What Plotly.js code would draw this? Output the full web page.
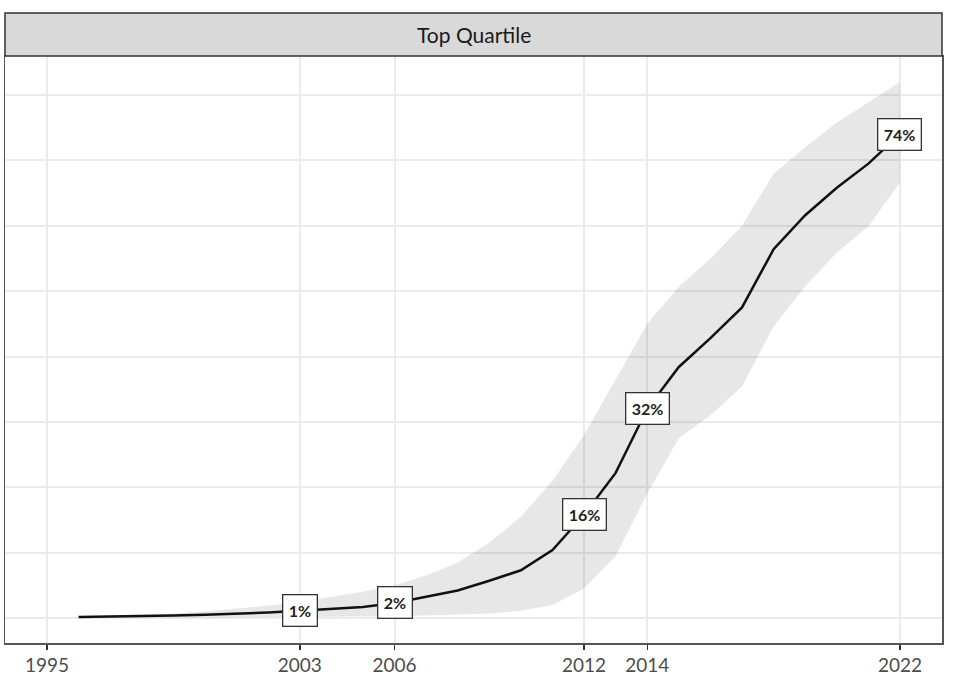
<!DOCTYPE html>
<html>
<head>
<meta charset="utf-8">
<script src="https://cdn.plot.ly/plotly-3.0.1.min.js"></script>
<style>
  html, body { margin: 0; padding: 0; background: #ffffff; }
  #chart { width: 957px; height: 686px; }
</style>
</head>
<body>
<div id="chart"></div>
<script>
// ---- data ----
const years = [1996, 1997, 1998, 1999, 2000, 2001, 2002, 2003, 2004, 2005, 2006, 2007, 2008, 2009,
               2010, 2011, 2012, 2013, 2014, 2015, 2016, 2017, 2018, 2019, 2020, 2021, 2022];
const share = [0.15, 0.2, 0.3, 0.4, 0.5, 0.65, 0.85, 1.1, 1.4, 1.7, 2.3, 3.3, 4.2, 5.7,
               7.3, 10.4, 15.8, 22.2, 32, 38.4, 42.8, 47.5, 56.4, 61.6, 65.8, 69.5, 74];
const lower = [0.05, 0.05, 0.05, 0.1, 0.1, 0.1, 0.1, 0.15, 0.2, 0.2, 0.3, 0.4, 0.5, 0.7,
               1.1, 2.0, 4.5, 9.5, 19, 27.5, 31, 35.4, 44.6, 50.7, 55.9, 59.9, 66.6];
const upper = [0.2, 0.35, 0.5, 0.7, 1.0, 1.4, 1.9, 2.5, 3.2, 4.0, 5.0, 6.5, 8.5, 11.5,
               15.5, 21, 28, 36.4, 45, 50.7, 55, 60, 68, 72, 75.8, 78.9, 82];
const labelYears = [2003, 2006, 2012, 2014, 2022];
const labelTexts = ["1%", "2%", "16%", "32%", "74%"];
const tickYears = [1995, 2003, 2006, 2012, 2014, 2022];
const tickTexts = ["1995", "2003", "2006", "2012", "2014", "2022"];
const panelTitle = "Top Quartile";

// ---- traces ----
const ribbonLow = {
  x: years, y: lower, type: "scatter", mode: "lines",
  line: { width: 0, color: "rgba(0,0,0,0)" },
  hoverinfo: "skip", showlegend: false
};
const ribbonHigh = {
  x: years, y: upper, type: "scatter", mode: "lines",
  fill: "tonexty", fillcolor: "rgba(0,0,0,0.095)",
  line: { width: 0, color: "rgba(0,0,0,0)" },
  hoverinfo: "skip", showlegend: false
};
const mainLine = {
  x: years, y: share, type: "scatter", mode: "lines",
  line: { color: "#111111", width: 2.5 },
  showlegend: false
};

const annotations = labelYears.map((yr, i) => ({
  x: yr, y: share[years.indexOf(yr)], xref: "x", yref: "y",
  text: labelTexts[i], showarrow: false,
  bgcolor: "#ffffff", bordercolor: "#333333", borderwidth: 1.3, borderpad: 5.5,
  font: { family: "Lato, 'Open Sans', sans-serif", size: 16, color: "#222222", weight: "bold" }
}));
annotations.push({
  x: 0.5, y: 1 + 21.5 / 587, xref: "paper", yref: "paper",
  text: panelTitle, showarrow: false, xanchor: "center", yanchor: "middle",
  font: { family: "Lato, 'Open Sans', sans-serif", size: 21, color: "#1a1a1a" }
});

const layout = {
  width: 957, height: 686,
  margin: { l: 5, r: 15, t: 56, b: 43, pad: 0 },
  paper_bgcolor: "#ffffff", plot_bgcolor: "#ffffff",
  showlegend: false,
  xaxis: {
    range: [1993.67, 2023.33],
    tickmode: "array", tickvals: tickYears, ticktext: tickTexts,
    showgrid: true, gridcolor: "#ebebeb", gridwidth: 2,
    zeroline: false,
    showline: true, linecolor: "#555555", linewidth: 1.5, mirror: true,
    ticks: "outside", ticklen: 5, tickwidth: 1.5, tickcolor: "#333333",
    tickfont: { family: "Lato, 'Open Sans', sans-serif", size: 19, color: "#4d4d4d" },
    fixedrange: true
  },
  yaxis: {
    range: [-3.82, 85.96],
    tick0: 0, dtick: 10,
    showticklabels: false, ticks: "",
    showgrid: true, gridcolor: "#ebebeb", gridwidth: 2,
    zeroline: false,
    showline: true, linecolor: "#555555", linewidth: 1.5, mirror: true,
    fixedrange: true
  },
  shapes: [{
    type: "rect", xref: "paper", yref: "paper",
    x0: 0, x1: 1, y0: 1, y1: 1 + 43 / 587,
    fillcolor: "#d9d9d9", line: { color: "#333333", width: 1.5 },
    layer: "above"
  }],
  annotations: annotations
};

Plotly.newPlot("chart", [ribbonLow, ribbonHigh, mainLine], layout, { displayModeBar: false, staticPlot: true });
</script>
</body>
</html>
